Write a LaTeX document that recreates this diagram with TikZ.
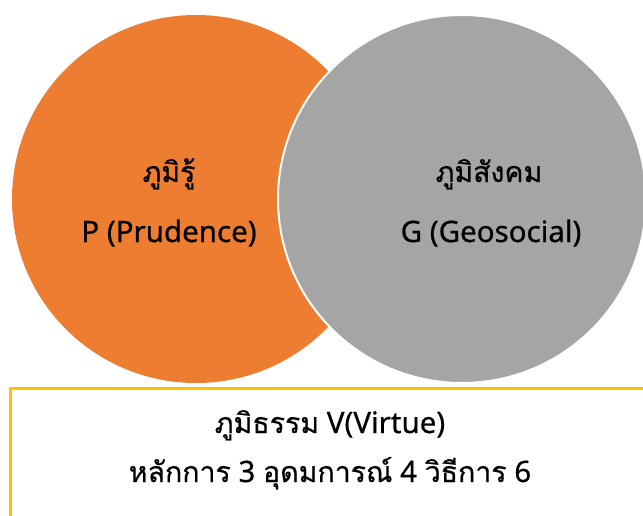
\documentclass[tikz,border=0pt]{standalone}
\usepackage{fontspec}
\setmainfont{Noto Sans}[FakeBold=0.6]
\newfontfamily\thaifont[Script=Thai,FakeBold=0.6]{Loma}
\definecolor{vorange}{HTML}{ED7D31}
\definecolor{vgray}{HTML}{A5A5A5}
\definecolor{vyellow}{HTML}{FFC000}
\newcommand{\thaiword}[1]{{\thaifont\fontsize{28.5}{34}\selectfont #1}}
\tikzset{
  bigcircle/.style={circle, minimum size=368pt, inner sep=0pt},
  thailabel/.style={anchor=base, inner sep=0pt, font=\thaifont\fontsize{28.5}{34}\selectfont},
  latinlabel/.style={anchor=base, inner sep=0pt, font=\fontsize{29.5}{34}\selectfont},
}
\begin{document}
\begin{tikzpicture}[x=1pt,y=-1pt]
\useasboundingbox (0,0) rectangle (643,516);
\clip (0,0) rectangle (643,516);
\node[bigcircle, fill=vorange] (P) at (196,199) {};
\node[bigcircle, fill=vgray, draw=white, line width=2pt] (G) at (462,199) {};
\node[draw=vyellow, line width=2.6pt, anchor=north west, minimum width=700pt, minimum height=200pt, inner sep=0pt] (V) at (9,387) {};
\node[thailabel] (pth) at (169,182) {ภูมิรู้};
\node[latinlabel] (pen) at (169,242) {P (Prudence)};
\node[thailabel] (gth) at (489,182) {ภูมิสังคม};
\node[latinlabel] (gen) at (491,242) {G (Geosocial)};
\node[latinlabel] (v1) at (330,433) {\thaiword{ภูมิธรรม} V(Virtue)};
\node[latinlabel] (v2) at (330,482) {\thaiword{หลักการ} 3 \thaiword{อุดมการณ์} 4 \thaiword{วิธีการ} 6};
\end{tikzpicture}
\end{document}
